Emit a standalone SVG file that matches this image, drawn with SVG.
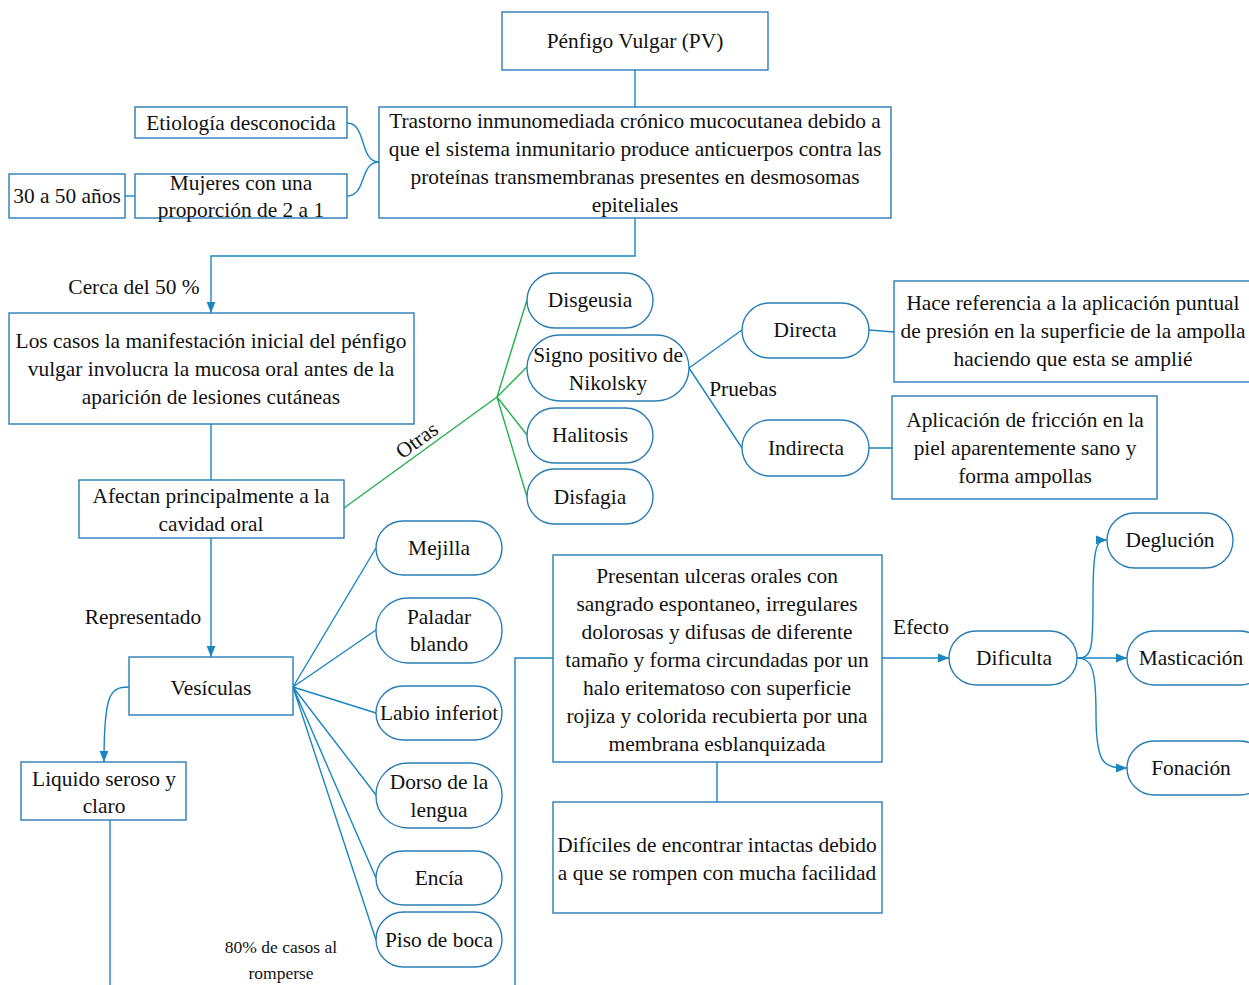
<svg xmlns="http://www.w3.org/2000/svg" width="1249" height="985" viewBox="0 0 1249 985">
<style>
.b{fill:#fff;stroke:#2a7db5;stroke-width:1.4}
.c{fill:none;stroke:#1b85c0;stroke-width:1.4}
.g{fill:none;stroke:#22b04a;stroke-width:1.4}
text{font-family:"Liberation Serif","Times New Roman",serif;font-size:21.4px;fill:#111;text-anchor:middle}
.s{font-size:17.5px}
</style>
<defs>
<marker id="ar" viewBox="0 0 10 10" refX="10" refY="5" markerWidth="11" markerHeight="11" markerUnits="userSpaceOnUse" orient="auto">
<path d="M0,1 L10,5 L0,9 z" fill="#1b85c0"/>
</marker>
</defs>
<rect width="1249" height="985" fill="#fff"/>
<g id="connectors">
<path class="c" d="M635,70 V107"/>
<path class="c" d="M347,123 C367,123 359,162 379,162"/>
<path class="c" d="M347,196 C367,196 359,162 379,162"/>
<path class="c" d="M125,196 H135"/>
<path class="c" d="M635,218 V256 H211 V313" marker-end="url(#ar)"/>
<path class="c" d="M211,424 V480"/>
<path class="c" d="M211,538 V657" marker-end="url(#ar)"/>
<path class="c" d="M129,687 C110,687 104,693 104,762" marker-end="url(#ar)"/>
<path class="c" d="M110,820 V985"/>
<path class="c" d="M293,687 L376,548 M293,687 L376,630 M293,687 L376,713 M293,687 L376,795 M293,687 L376,878 M293,687 L376,940"/>
<path class="c" d="M515,985 V658 H553"/>
<path class="c" d="M717,762 V802"/>
<path class="c" d="M882,658 H949" marker-end="url(#ar)"/>
<path class="c" d="M1077,658 C1092,658 1093,650 1093,600 C1093,548 1096,540 1107,540" marker-end="url(#ar)"/>
<path class="c" d="M1077,658 H1127" marker-end="url(#ar)"/>
<path class="c" d="M1077,658 C1092,658 1096,668 1096,715 C1096,765 1104,768 1127,768" marker-end="url(#ar)"/>
<path class="g" d="M344,508 L497,397 M497,397 L527,300 M497,397 L527,367 M497,397 L527,435 M497,397 L527,497"/>
<path class="c" d="M689,368 L742,330 M689,368 L742,448"/>
<path class="c" d="M869,330 L894,332 M869,448 H892"/>
<text x="134" y="294">Cerca del 50 %</text>
<text x="143" y="624">Representado</text>
<text x="0" y="0" transform="translate(421,446) rotate(-36)">Otras</text>
<text x="743" y="396">Pruebas</text>
<text x="921" y="634">Efecto</text>
<text class="s" x="281" y="953">80% de casos al</text>
<text class="s" x="281" y="979">romperse</text>
</g>
<g id="pv"><rect class="b" x="502" y="12" width="266" height="58"/><text x="635" y="48">Pénfigo Vulgar (PV)</text></g>
<g id="trastorno"><rect class="b" x="379" y="107" width="512" height="111"/>
<text x="635" y="128">Trastorno inmunomediada crónico mucocutanea debido a</text>
<text x="635" y="156">que el sistema inmunitario produce anticuerpos contra las</text>
<text x="635" y="184">proteínas transmembranas presentes en desmosomas</text>
<text x="635" y="212">epiteliales</text></g>
<g id="etiologia"><rect class="b" x="135" y="107" width="212" height="31"/><text x="241" y="130">Etiología desconocida</text></g>
<g id="mujeres"><rect class="b" x="135" y="174" width="212" height="44"/><text x="241" y="190">Mujeres con una</text><text x="241" y="217">proporción de 2 a 1</text></g>
<g id="edad"><rect class="b" x="9" y="174" width="116" height="44"/><text x="67" y="203">30 a 50 años</text></g>
<g id="casos"><rect class="b" x="9" y="313" width="405" height="111"/>
<text x="211" y="348">Los casos la manifestación inicial del pénfigo</text>
<text x="211" y="376">vulgar involucra la mucosa oral antes de la</text>
<text x="211" y="404">aparición de lesiones cutáneas</text></g>
<g id="afectan"><rect class="b" x="79" y="480" width="265" height="58"/><text x="211" y="503">Afectan principalmente a la</text><text x="211" y="531">cavidad oral</text></g>
<g id="vesiculas"><rect class="b" x="129" y="657" width="164" height="58"/><text x="211" y="695">Vesículas</text></g>
<g id="liquido"><rect class="b" x="21" y="762" width="165" height="58"/><text x="104" y="786">Liquido seroso y</text><text x="104" y="813">claro</text></g>
<g id="disgeusia"><rect class="b" x="527" y="273" width="126" height="55" rx="27.5"/><text x="590" y="307">Disgeusia</text></g>
<g id="signo"><rect class="b" x="527" y="335" width="162" height="66" rx="33"/><text x="608" y="362">Signo positivo de</text><text x="608" y="390">Nikolsky</text></g>
<g id="halitosis"><rect class="b" x="527" y="408" width="126" height="55" rx="27.5"/><text x="590" y="442">Halitosis</text></g>
<g id="disfagia"><rect class="b" x="527" y="469" width="126" height="55" rx="27.5"/><text x="590" y="504">Disfagia</text></g>
<g id="directa"><rect class="b" x="742" y="303" width="127" height="55" rx="27.5"/><text x="805" y="337">Directa</text></g>
<g id="indirecta"><rect class="b" x="742" y="420" width="127" height="56" rx="28"/><text x="806" y="455">Indirecta</text></g>
<g id="hace"><rect class="b" x="894" y="281" width="362" height="101"/>
<text x="1073" y="310">Hace referencia a la aplicación puntual</text>
<text x="1073" y="338">de presión en la superficie de la ampolla</text>
<text x="1073" y="366">haciendo que esta se amplié</text></g>
<g id="aplicacion"><rect class="b" x="892" y="396" width="265" height="103"/>
<text x="1025" y="427">Aplicación de fricción en la</text>
<text x="1025" y="455">piel aparentemente sano y</text>
<text x="1025" y="483">forma ampollas</text></g>
<g id="mejilla"><rect class="b" x="376" y="521" width="126" height="54" rx="27"/><text x="439" y="555">Mejilla</text></g>
<g id="paladar"><rect class="b" x="376" y="598" width="126" height="65" rx="32"/><text x="439" y="624">Paladar</text><text x="439" y="651">blando</text></g>
<g id="labio"><rect class="b" x="376" y="686" width="126" height="54" rx="27"/><text x="439" y="720">Labio inferiot</text></g>
<g id="dorso"><rect class="b" x="376" y="763" width="126" height="65" rx="32"/><text x="439" y="789">Dorso de la</text><text x="439" y="817">lengua</text></g>
<g id="encia"><rect class="b" x="376" y="851" width="126" height="54" rx="27"/><text x="439" y="885">Encía</text></g>
<g id="piso"><rect class="b" x="376" y="912" width="126" height="55" rx="27.5"/><text x="439" y="947">Piso de boca</text></g>
<g id="ulceras"><rect class="b" x="553" y="555" width="329" height="207"/>
<text x="717" y="583">Presentan ulceras orales con</text>
<text x="717" y="611">sangrado espontaneo, irregulares</text>
<text x="717" y="639">dolorosas y difusas de diferente</text>
<text x="717" y="667">tamaño y forma circundadas por un</text>
<text x="717" y="695">halo eritematoso con superficie</text>
<text x="717" y="723">rojiza y colorida recubierta por una</text>
<text x="717" y="751">membrana esblanquizada</text></g>
<g id="dificiles"><rect class="b" x="553" y="802" width="329" height="111"/>
<text x="717" y="852">Difíciles de encontrar intactas debido</text>
<text x="717" y="880">a que se rompen con mucha facilidad</text></g>
<g id="dificulta"><rect class="b" x="949" y="631" width="128" height="54" rx="27"/><text x="1014" y="665">Dificulta</text></g>
<g id="deglucion"><rect class="b" x="1107" y="513" width="126" height="55" rx="27.5"/><text x="1170" y="547">Deglución</text></g>
<g id="masticacion"><rect class="b" x="1127" y="631" width="140" height="54" rx="27"/><text x="1191" y="665">Masticación</text></g>
<g id="fonacion"><rect class="b" x="1127" y="741" width="140" height="54" rx="27"/><text x="1191" y="775">Fonación</text></g>
</svg>
